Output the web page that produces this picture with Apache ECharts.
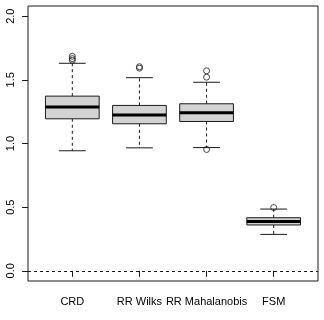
<!DOCTYPE html>
<html>
<head>
<meta charset="utf-8">
<title>boxplot</title>
<script src="https://cdn.jsdelivr.net/npm/echarts@6/dist/echarts.min.js"></script>
<style>
    html, body { margin: 0; padding: 0; background: #fff; }
    #box_chart { width: 324px; height: 320px; }
</style>
</head>
<body>
<div id="box_chart"></div>
<script>
    /*--------------------------------
         Data
     --------------------------------*/
    var categories = ['CRD', 'RR Wilks', 'RR Mahalanobis', 'FSM'];
    var lowerWhisker = [0.943, 0.966, 0.968, 0.286];
    var lowerQuartile = [1.194, 1.155, 1.173, 0.360];
    var medians = [1.286, 1.223, 1.242, 0.388];
    var upperQuartile = [1.372, 1.299, 1.312, 0.417];
    var upperWhisker = [1.630, 1.517, 1.481, 0.485];
    var outlierGroup = [1, 1, 1, 2, 2, 3, 3, 3, 4];
    var outlierValue = [1.685, 1.667, 1.654, 1.603, 1.592, 1.571, 1.521, 0.953, 0.497];
    var yTicks = [0, 0.5, 1, 1.5, 2];

    var ink = '#1a1a1a';
    var font = 'Liberation Sans, Arial, sans-serif';

    var boxData = [];
    for (var i = 0; i < categories.length; i++) {
        boxData.push([i + 1, lowerWhisker[i], lowerQuartile[i], medians[i], upperQuartile[i], upperWhisker[i]]);
    }
    var outlierData = [];
    for (var j = 0; j < outlierGroup.length; j++) {
        outlierData.push([outlierGroup[j], outlierValue[j]]);
    }

    // R style box: dashed whiskers, half width staples, thick median
    function renderBox(params, api) {
        var x = api.value(0);
        var lo = api.coord([x, api.value(1)]);
        var q1 = api.coord([x, api.value(2)]);
        var md = api.coord([x, api.value(3)]);
        var q3 = api.coord([x, api.value(4)]);
        var hi = api.coord([x, api.value(5)]);
        var half = api.size([0.4, 0])[0];
        var cap = half / 2;
        var cx = lo[0];
        var thin = { stroke: ink, lineWidth: 1 };
        return {
            type: 'group',
            children: [
                { type: 'line', shape: { x1: cx, y1: q3[1], x2: cx, y2: hi[1] }, style: { stroke: ink, lineWidth: 1, lineDash: [3, 3] } },
                { type: 'line', shape: { x1: cx, y1: q1[1], x2: cx, y2: lo[1] }, style: { stroke: ink, lineWidth: 1, lineDash: [3, 3] } },
                { type: 'line', shape: { x1: cx - cap, y1: hi[1], x2: cx + cap, y2: hi[1] }, style: thin },
                { type: 'line', shape: { x1: cx - cap, y1: lo[1], x2: cx + cap, y2: lo[1] }, style: thin },
                { type: 'rect', shape: { x: cx - half, y: q3[1], width: half * 2, height: q1[1] - q3[1] }, style: { fill: '#d3d3d3', stroke: ink, lineWidth: 1 } },
                { type: 'line', shape: { x1: cx - half, y1: md[1], x2: cx + half, y2: md[1] }, style: { stroke: '#000', lineWidth: 3 } }
            ]
        };
    }

    var myChart = echarts.init(document.getElementById('box_chart'));
    var option = {
        animation: false,
        grid: {
            left: 28, right: 6, top: 6, bottom: 39,
            show: true, borderColor: ink, borderWidth: 1, backgroundColor: 'transparent'
        },
        xAxis: {
            type: 'value', min: 0.34, max: 4.66,
            axisLine: { show: false },
            splitLine: { show: false },
            axisTick: { show: true, length: 6, customValues: [1, 2, 3, 4], lineStyle: { color: ink } },
            axisLabel: {
                customValues: [1, 2, 3, 4], margin: 15, color: '#000', fontSize: 11, fontFamily: font,
                formatter: function (v) { return categories[Math.round(v) - 1]; }
            }
        },
        yAxis: {
            type: 'value', min: -0.08, max: 2.08,
            axisLine: { show: false },
            splitLine: { show: false },
            axisTick: { show: true, length: 6, customValues: yTicks, lineStyle: { color: ink } },
            axisLabel: {
                customValues: yTicks, rotate: 90, margin: 12, color: '#000', fontSize: 11, fontFamily: font,
                formatter: function (v) { return v.toFixed(1); }
            }
        },
        series: [
            {
                type: 'custom',
                renderItem: renderBox,
                data: boxData,
                encode: { x: 0, y: [1, 2, 3, 4, 5] },
                markLine: {
                    silent: true, symbol: 'none', label: { show: false },
                    lineStyle: { color: ink, width: 1, type: [3, 3] },
                    data: [{ yAxis: 0 }]
                }
            },
            {
                type: 'scatter',
                data: outlierData,
                symbol: 'circle',
                symbolSize: 6,
                itemStyle: { color: 'transparent', borderColor: ink, borderWidth: 1 }
            }
        ]
    };
    myChart.setOption(option);
</script>
</body>
</html>
